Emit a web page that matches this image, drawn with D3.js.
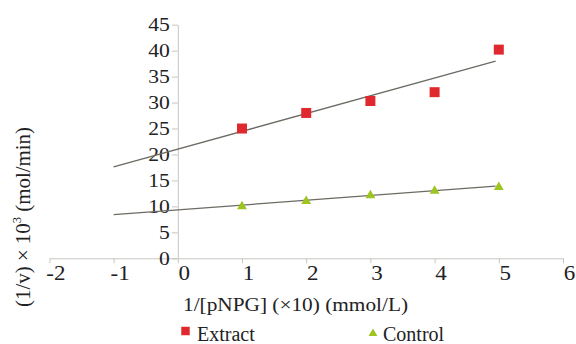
<!DOCTYPE html>
<html><head><meta charset="utf-8">
<script src="https://cdn.jsdelivr.net/npm/d3@7/dist/d3.min.js"></script>
<style>body{margin:0;background:#fff}svg{display:block}</style>
</head><body>
<script>
const xValues = [1, 2, 3, 4, 5];
const extractValues = [25.0, 28.0, 30.3, 32.0, 40.2];
const controlValues = [10.0, 11.0, 12.1, 13.0, 13.7];
const extractFit = [[-1, 17.6], [4.95, 38.0]];
const controlFit = [[-1, 8.4], [4.95, 13.9]];
const xTicks = [-2, -1, 0, 1, 2, 3, 4, 5, 6];
const yTicks = [0, 5, 10, 15, 20, 25, 30, 35, 40, 45];
const seriesNames = ["Extract", "Control"];
const colors = {Extract: "#e0292e", Control: "#9dc41f"};

const FONT = '"Liberation Serif"';
const W = 576, H = 344;
const svg = d3.select("body").append("svg").attr("width", W).attr("height", H);
const x = d3.scaleLinear().domain([-2, 6]).range([49.4, 563]);
const y = d3.scaleLinear().domain([0, 45]).range([258.3, 24.7]);
const axisColor = "#c9c6c0";

// x axis
const gx = svg.append("g").attr("transform", `translate(0,${y(0)})`)
  .call(d3.axisBottom(x).tickValues(xTicks).tickSize(5).tickSizeOuter(0).tickFormat(d => String(d)));
gx.select(".domain").attr("stroke", axisColor);
gx.selectAll(".tick line").attr("stroke", axisColor);
gx.selectAll(".tick text").attr("font-size", 20).attr("y", 8).attr("dy", "0.71em")
  .attr("transform", "translate(6,0) scale(1.15,1)").style("font-family", FONT).attr("fill", "#222");

// y axis
const gy = svg.append("g").attr("transform", `translate(${x(0)},0)`)
  .call(d3.axisLeft(y).tickValues(yTicks).tickSize(6).tickSizeOuter(0));
gy.select(".domain").attr("stroke", axisColor);
gy.selectAll(".tick line").attr("stroke", axisColor);
gy.selectAll(".tick text").attr("font-size", 18).attr("x", 0).attr("dy", "0.33em")
  .attr("transform", "translate(-8,0) scale(1.2,1)").style("font-family", FONT).attr("fill", "#222");

// trend lines
const line = d3.line().x(d => x(d[0])).y(d => y(d[1]));
[extractFit, controlFit].forEach(f => {
  svg.append("path").datum(f).attr("d", line).attr("fill", "none")
    .attr("stroke", "#6e6a64").attr("stroke-width", 1.3);
});

// points
svg.append("g").selectAll("path").data(xValues.map((v, i) => [v, extractValues[i]])).join("path")
  .attr("d", d3.symbol(d3.symbolSquare, 100)())
  .attr("transform", d => `translate(${x(d[0])},${y(d[1])})`)
  .attr("fill", colors.Extract);
svg.append("g").selectAll("path").data(xValues.map((v, i) => [v, controlValues[i]])).join("path")
  .attr("d", d3.symbol(d3.symbolTriangle, 42)())
  .attr("transform", d => `translate(${x(d[0])},${y(d[1])})`)
  .attr("fill", colors.Control);

// axis titles
svg.append("text").attr("x", 183).attr("y", 311).attr("font-size", 18.5).style("font-family", FONT).attr("fill", "#222")
  .attr("textLength", 225).attr("lengthAdjust", "spacingAndGlyphs")
  .text("1/[pNPG] (×10) (mmol/L)");

const yt = svg.append("text").attr("transform", "translate(30,307) rotate(-90)").style("font-family", FONT).attr("fill", "#222")
  .attr("font-size", 20).attr("textLength", 180).attr("lengthAdjust", "spacingAndGlyphs");
yt.append("tspan").text("(1/v) × 10");
yt.append("tspan").attr("font-size", 12).attr("dy", -9).text("3");
yt.append("tspan").attr("dy", 9).text(" (mol/min)");

// legend
svg.append("path").attr("d", d3.symbol(d3.symbolSquare, 72)())
  .attr("transform", "translate(185.5,331)").attr("fill", colors.Extract);
svg.append("text").attr("x", 197).attr("y", 341).attr("font-size", 20).style("font-family", FONT).attr("fill", "#222").text(seriesNames[0]);
svg.append("path").attr("d", d3.symbol(d3.symbolTriangle, 34)())
  .attr("transform", "translate(373,333.5)").attr("fill", colors.Control);
svg.append("text").attr("x", 383).attr("y", 341).attr("font-size", 20).style("font-family", FONT).attr("fill", "#222").text(seriesNames[1]);
</script>
</body></html>
